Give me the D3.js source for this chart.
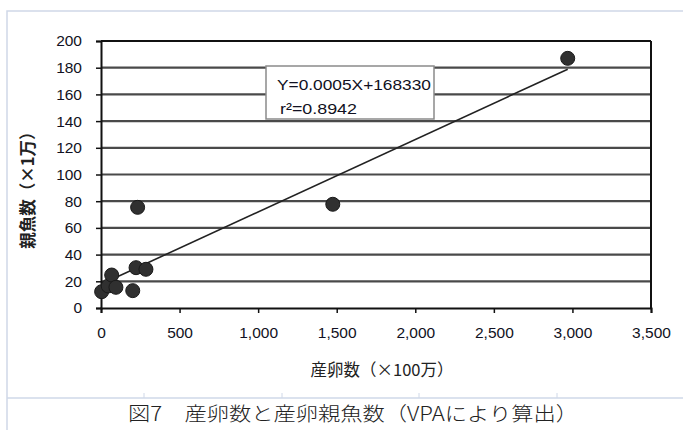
<!DOCTYPE html>
<html><head><meta charset="utf-8">
<script src="https://cdn.jsdelivr.net/npm/d3@7"></script>
<style>body{margin:0;background:#fff}svg{display:block}</style>
</head><body>
<svg id="c" width="683" height="430"></svg>
<script>
// Data
const spawnEggs = [4, 46, 68, 95, 202, 223, 286, 233, 1475, 2970];      // 産卵数 (×100万)
const parentFish = [12.2, 16.5, 24.7, 15.5, 13, 30.2, 29, 75.4, 77.7, 187]; // 親魚数 (×1万)
const xTicks = [0, 500, 1000, 1500, 2000, 2500, 3000, 3500];
const yTicks = [0, 20, 40, 60, 80, 100, 120, 140, 160, 180, 200];
const equationLines = ["Y=0.0005X+168330", "r²=0.8942"];
const xTitle = "産卵数（×100万）";
const yTitle = "親魚数（×1万）";
const caption = "図7　産卵数と産卵親魚数（VPAにより算出）";

const svg = d3.select("#c");
const L = 101, R = 651, T = 41, B = 308;
const x = d3.scaleLinear().domain([0, 3500]).range([L, R]);
const y = d3.scaleLinear().domain([0, 200]).range([B, T]);
const latin = "Arial, 'Liberation Sans', sans-serif";
const cjk = "'Noto Sans CJK JP', sans-serif";

// outer frame
const frame = "#cfd8e8";
svg.append("path").attr("d", `M7,430V11H683`).attr("fill", "none").attr("stroke", frame).attr("stroke-width", 1.5);
svg.append("line").attr("x1", 7).attr("x2", 683).attr("y1", 398).attr("y2", 398).attr("stroke", frame).attr("stroke-width", 1.5);
[144, 282, 419, 557].forEach(px => svg.append("line").attr("x1", px).attr("x2", px).attr("y1", 393).attr("y2", 398).attr("stroke", frame));

// gridlines
svg.append("g").selectAll("line").data(yTicks.filter(d => d > 0)).join("line")
  .attr("x1", L).attr("x2", R).attr("y1", d => y(d)).attr("y2", d => y(d))
  .attr("stroke", d => d === 200 ? "#111" : "#4a4a4a").attr("stroke-width", 2.2);
svg.append("line").attr("x1", R).attr("x2", R).attr("y1", T).attr("y2", B).attr("stroke", "#111").attr("stroke-width", 2);

// axes
const yAxis = svg.append("g").attr("transform", `translate(${L},0)`)
  .call(d3.axisLeft(y).tickValues(yTicks).tickSize(5).tickPadding(14).tickFormat(d3.format("d")));
const xAxis = svg.append("g").attr("transform", `translate(0,${B})`)
  .call(d3.axisBottom(x).tickValues(xTicks).tickSize(5).tickPadding(14).tickFormat(d3.format(",")));
[yAxis, xAxis].forEach(g => {
  g.select(".domain").attr("stroke", "#111").attr("stroke-width", 2);
  g.selectAll(".tick line").attr("stroke", "#111").attr("stroke-width", 1.5);
  g.selectAll(".tick text").attr("fill", "#111122").style("font-family", latin).style("font-size", "15.5px");
});

// trend line (least squares over the data)
const mx = d3.mean(spawnEggs), my = d3.mean(parentFish);
let sxy = 0, sxx = 0;
spawnEggs.forEach((v, i) => { sxy += (v - mx) * (parentFish[i] - my); sxx += (v - mx) ** 2; });
const slope = sxy / sxx, icpt = my - slope * mx;
const [x0, x1] = d3.extent(spawnEggs);
svg.append("line").attr("x1", x(x0)).attr("y1", y(icpt + slope * x0)).attr("x2", x(x1)).attr("y2", y(icpt + slope * x1))
  .attr("stroke", "#222").attr("stroke-width", 1.6);

// points
svg.append("g").selectAll("circle").data(spawnEggs).join("circle")
  .attr("cx", d => x(d)).attr("cy", (d, i) => y(parentFish[i])).attr("r", 7)
  .attr("fill", "#303030").attr("stroke", "#1a1a1a").attr("stroke-width", 1);

// equation box
svg.append("rect").attr("x", 266).attr("y", 66).attr("width", 168).attr("height", 53)
  .attr("fill", "#fff").attr("stroke", "#8a8a8a").attr("stroke-width", 1.5);
const eqWidths = [154, 77];
svg.append("g").selectAll("text").data(equationLines).join("text")
  .attr("x", (d, i) => i === 0 ? 277 : 280).attr("y", (d, i) => 90 + i * 24)
  .attr("textLength", (d, i) => eqWidths[i]).attr("lengthAdjust", "spacingAndGlyphs")
  .attr("fill", "#111122").style("font-family", latin).style("font-size", "15.5px").text(d => d);

// axis titles
svg.append("text").attr("x", 382).attr("y", 376).attr("text-anchor", "middle")
  .attr("fill", "#222").style("font-family", cjk).style("font-size", "16.5px").text(xTitle);
svg.append("text").attr("transform", "translate(34,186) rotate(-90)").attr("text-anchor", "middle")
  .attr("fill", "#222").style("font-family", cjk).style("font-size", "16.5px").style("font-weight", "bold").text(yTitle);

// caption
svg.append("text").attr("x", 128).attr("y", 421).attr("textLength", 450).attr("lengthAdjust", "spacingAndGlyphs")
  .attr("fill", "#222").style("font-family", cjk).style("font-size", "19.5px").style("font-weight", 300).text(caption);
</script>
</body></html>
